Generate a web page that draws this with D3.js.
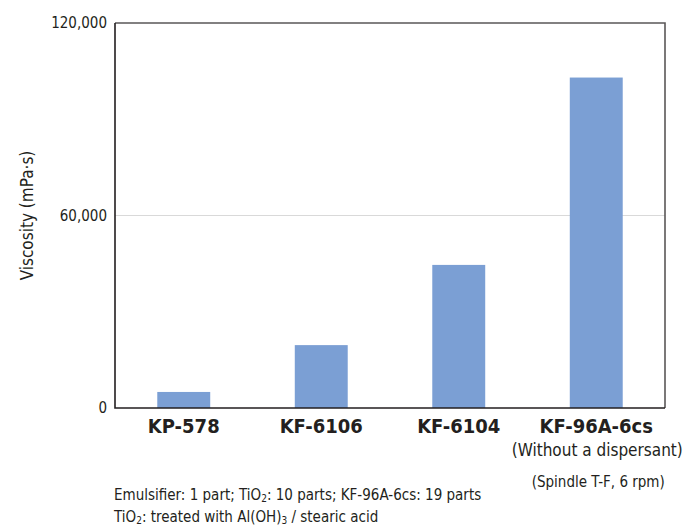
<!DOCTYPE html>
<html><head><meta charset="utf-8">
<script src="https://cdn.jsdelivr.net/npm/d3@7"></script>
<style>
body{margin:0;background:#fff;}
text{font-family:"DejaVu Sans Condensed",Roboto,sans-serif;fill:#231f20;}
</style></head><body>
<svg id="c" width="696" height="528"></svg>
<script>
const categories = ["KP-578","KF-6106","KF-6104","KF-96A-6cs"];
const values = [5000, 19600, 44600, 103000];
const yTicks = [0, 60000, 120000];
const subLabels = ["","","","(Without a dispersant)"];
const notes = ["Emulsifier: 1 part; TiO|2|: 10 parts; KF-96A-6cs: 19 parts","TiO|2|: treated with Al(OH)|3| / stearic acid"];

const svg = d3.select("#c");
const m = {l:115, r:665, t:23, b:408};
const x = d3.scaleBand().domain(categories).range([m.l, m.r]).paddingInner(0.615).paddingOuter(0.3075);
const y = d3.scaleLinear().domain([0,120000]).range([m.b, m.t]);

// gridline
svg.append("g").selectAll("line").data(yTicks.filter(d=>d>0 && d<120000)).join("line")
  .attr("x1", m.l).attr("x2", m.r).attr("y1", d=>y(d)).attr("y2", d=>y(d))
  .attr("stroke","#d9d9d9").attr("stroke-width",1);

// bars
svg.append("g").selectAll("rect").data(values).join("rect")
  .attr("x",(d,i)=>x(categories[i])).attr("width",x.bandwidth())
  .attr("y",d=>y(d)).attr("height",d=>y(0)-y(d)).attr("fill","#7b9fd4");

// frame
svg.append("path").attr("d",`M${m.l},${m.t}H${m.r}V${m.b}`).attr("fill","none").attr("stroke","#5a5758").attr("stroke-width",1.6);
svg.append("path").attr("d",`M${m.l},${m.t}V${m.b}H${m.r}`).attr("fill","none").attr("stroke","#231f20").attr("stroke-width",1.6);

// y axis labels
const yAxis = d3.axisLeft(y).tickValues(yTicks).tickSize(0).tickPadding(8).tickFormat(d3.format(","));
const ga = svg.append("g").attr("transform",`translate(${m.l},0)`).call(yAxis);
ga.select(".domain").remove();
ga.selectAll("text").attr("font-size",15).style("font-family",null).attr("fill","#231f20");

svg.append("text").attr("transform",`translate(33,${(m.t+m.b)/2}) rotate(-90)`)
  .attr("text-anchor","middle").attr("font-size",17).text("Viscosity (mPa·s)");

// x labels
svg.append("g").selectAll("text").data(categories).join("text")
  .attr("x",d=>x(d)+x.bandwidth()/2).attr("y",433).attr("text-anchor","middle")
  .attr("font-size",20).attr("font-weight","bold").text(d=>d);
svg.append("g").selectAll("text").data(subLabels).join("text")
  .attr("x",(d,i)=>x(categories[i])+x.bandwidth()/2+1).attr("y",456).attr("text-anchor","middle")
  .attr("font-size",17).text(d=>d);
svg.append("text").attr("x",x(categories[3])+x.bandwidth()/2+2).attr("y",487).attr("text-anchor","middle")
  .attr("font-size",15).text("(Spindle T-F, 6 rpm)");

// notes with subscripts
notes.forEach((n,k)=>{
  const t = svg.append("text").attr("x",114).attr("y",500+k*22).attr("font-size",15);
  n.split("|").forEach((part,j)=>{
    const ts = t.append("tspan").text(part);
    if (j%2===1) ts.attr("font-size",10).attr("dy",2);
    else if (j>0) ts.attr("dy",-2);
  });
});
</script></body></html>
